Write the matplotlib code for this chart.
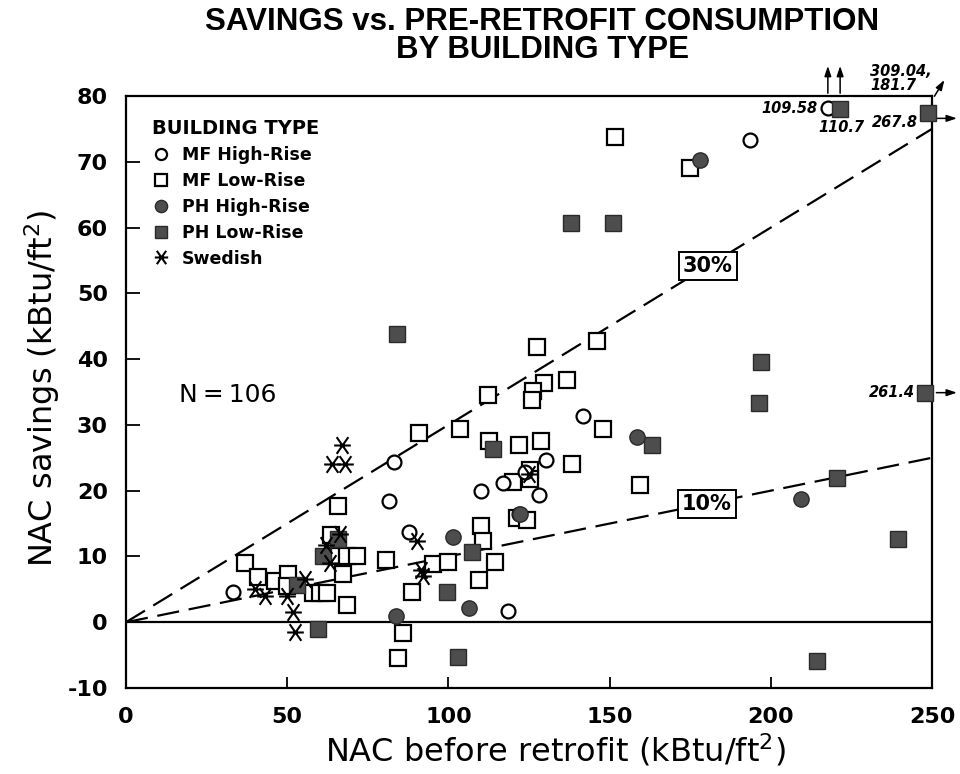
import matplotlib
matplotlib.use("Agg")
import matplotlib.pyplot as plt
from matplotlib.path import Path
from matplotlib.lines import Line2D
import numpy as np

plt.rcParams['font.family'] = ['DejaVu Sans']
plt.rcParams['lines.scale_dashes'] = False
plt.rcParams['axes.unicode_minus'] = False

# ---------------- data ----------------
mf_high_x = [33.2, 83.1, 81.6, 87.8, 110.0, 116.8, 118.5, 141.8, 130.3, 123.8, 128.1, 122.0, 193.5]
mf_high_y = [4.6, 24.3, 18.5, 13.7, 20.0, 21.1, 1.7, 31.4, 24.6, 22.9, 19.3, 16.5, 73.3]

mf_low_x = [36.9, 41.0, 46.2, 50.3, 49.8, 58.0, 60.2, 62.3, 63.5, 65.8, 64.8, 68.5, 71.6, 67.3,
            68.5, 80.6, 91.0, 103.6, 112.3, 112.6, 122.0, 128.7, 95.2, 99.9, 110.0, 110.6, 114.5,
            109.5, 88.7, 85.9, 84.4, 120.0, 125.3, 125.3, 121.3, 124.4, 127.5, 146.0, 129.7,
            136.8, 126.2, 125.9, 148.0, 138.3, 159.4, 151.7, 175.0]
mf_low_y = [9.0, 6.9, 6.2, 7.4, 5.5, 4.5, 4.5, 4.5, 13.2, 17.6, 10.0, 10.0, 10.0, 7.3,
            2.6, 9.4, 28.7, 29.3, 34.6, 27.5, 27.0, 27.5, 8.8, 9.1, 14.6, 12.3, 9.1,
            6.4, 4.6, -1.7, -5.5, 21.3, 23.2, 21.7, 15.9, 15.6, 41.9, 42.7, 36.4,
            36.9, 35.2, 33.8, 29.3, 24.1, 20.8, 73.7, 69.0]

ph_high_x = [178.0, 158.5, 101.5, 106.4, 83.7, 122.2, 209.4]
ph_high_y = [70.3, 28.1, 12.9, 2.1, 0.9, 16.4, 18.8]

ph_low_x = [84.0, 138.0, 151.0, 113.8, 163.0, 197.0, 196.3, 220.5, 239.5, 214.3, 103.0,
            99.6, 107.4, 59.6, 61.0, 65.8, 53.0]
ph_low_y = [43.8, 60.7, 60.7, 26.4, 27.0, 39.6, 33.4, 21.9, 12.6, -5.9, -5.3,
            4.6, 10.6, -1.1, 10.0, 12.6, 5.6]

swed_x = [40.0, 43.0, 49.8, 55.5, 51.8, 52.4, 64.0, 67.9, 67.0, 62.0, 66.4, 63.3, 90.2, 91.5, 92.0, 125.0]
swed_y = [5.0, 4.0, 4.0, 6.5, 1.5, -1.5, 24.0, 24.0, 27.0, 11.8, 13.4, 9.0, 12.3, 8.0, 7.0, 22.5]

# off-scale points: drawn at the frame edge, with true value labels
off_type = ['MF High-Rise', 'PH Low-Rise', 'PH Low-Rise', 'PH Low-Rise']
off_x = [217.7, 221.5, 248.7, 247.8]
off_y = [78.1, 78.0, 77.4, 34.9]
off_label = ['109.58', '110.7', '267.8', '261.4']
corner_label = '309.04,\n181.7'

ref_pct = [0.30, 0.10]
ref_labels = ['30%', '10%']
ref_label_x = [180.5, 180.2]

x_ticks = [0, 50, 100, 150, 200, 250]
y_ticks = [-10, 0, 10, 20, 30, 40, 50, 60, 70, 80]

# ---------------- figure ----------------
fig = plt.figure(figsize=(9.6, 7.74), dpi=100)
ax = fig.add_axes([126/960, 1-688/774, (932-126)/960, (688-96)/774])
ax.set_xlim(0, 250)
ax.set_ylim(-10, 80)

for s in ax.spines.values():
    s.set_linewidth(1.6)
ax.set_xticks(x_ticks)
ax.set_yticks(y_ticks)
ax.tick_params(axis='both', direction='in', width=1.3, top=False, right=False)
ax.tick_params(axis='y', length=10, pad=13, labelsize=16)
ax.tick_params(axis='x', length=8, pad=14, labelsize=16)
for lab in ax.get_xticklabels() + ax.get_yticklabels():
    lab.set_fontweight('bold')

# zero line
ax.axhline(0, color='black', lw=1.6, zorder=2)

# reference lines
xs = np.array([0, 250])
for p in ref_pct:
    ln, = ax.plot(xs, p*xs, color='black', lw=1.6, zorder=1)
    ln.set_dashes((16, 7))
for p, lab, lx in zip(ref_pct, ref_labels, ref_label_x):
    ax.text(lx, p*lx, lab, ha='center', va='center', fontsize=15, fontweight='bold', zorder=6,
            bbox=dict(boxstyle='square,pad=0.2', fc='white', ec='black', lw=1.4))

# Swedish marker: X with horizontal bar
a = 0.7
swed_marker = Path([(-a, -1), (a, 1), (-a, 1), (a, -1), (-1, 0), (1, 0)],
                   [Path.MOVETO, Path.LINETO, Path.MOVETO, Path.LINETO, Path.MOVETO, Path.LINETO])

fillc = '#4d4d4d'
styles = {
    'MF High-Rise': dict(marker='o', ms=10, mfc='white', mec='black', mew=1.6),
    'MF Low-Rise': dict(marker='s', ms=11, mfc='white', mec='black', mew=1.6),
    'PH High-Rise': dict(marker='o', ms=11, mfc=fillc, mec='#2a2a2a', mew=1.0),
    'PH Low-Rise': dict(marker='s', ms=11, mfc=fillc, mec='#2a2a2a', mew=1.0),
    'Swedish': dict(marker=swed_marker, ms=12, mfc='none', mec='black', mew=1.5),
}

ax.plot(mf_low_x, mf_low_y, ls='none', zorder=3, **styles['MF Low-Rise'])
ax.plot(mf_high_x, mf_high_y, ls='none', zorder=3, **styles['MF High-Rise'])
ax.plot(ph_low_x, ph_low_y, ls='none', zorder=4, **styles['PH Low-Rise'])
ax.plot(ph_high_x, ph_high_y, ls='none', zorder=4, **styles['PH High-Rise'])
ax.plot(swed_x, swed_y, ls='none', zorder=5, **styles['Swedish'])

for t, x, y in zip(off_type, off_x, off_y):
    ax.plot([x], [y], ls='none', zorder=5, clip_on=False, **styles[t])

arrow = dict(arrowstyle='-|>,head_length=0.6,head_width=0.2', lw=1.1, color='black')
# up arrows for savings off-scale
for x in off_x[:2]:
    ax.annotate('', xy=(x, 85), xytext=(x, 80), arrowprops=arrow, annotation_clip=False)
# right arrows for pre-retrofit off-scale
for y in [76.6, off_y[3]]:
    ax.annotate('', xy=(258.6, y), xytext=(250.5, y), arrowprops=arrow, annotation_clip=False)
# corner arrow
ax.annotate('', xy=(254.3, 82.8), xytext=(250.3, 79.6), arrowprops=arrow, annotation_clip=False)

lab_kw = dict(fontsize=10.5, fontstyle='italic', fontweight='bold', zorder=7)
ax.text(214.6, 78.1, off_label[0], ha='right', va='center', **lab_kw)
ax.text(221.8, 75.2, off_label[1], ha='center', va='center', **lab_kw)
ax.text(245.6, 76.0, off_label[2], ha='right', va='center', **lab_kw)
ax.text(244.7, 34.9, off_label[3], ha='right', va='center', **lab_kw)
ax.text(230.8, 84.9, corner_label, ha='left', va='top', linespacing=0.95, **lab_kw)

# N label
ax.text(31.6, 34.6, 'N \u2550 106', ha='center', va='center', fontsize=18)

# legend
handles = [Line2D([], [], ls='none', **styles[k]) for k in
           ['MF High-Rise', 'MF Low-Rise', 'PH High-Rise', 'PH Low-Rise', 'Swedish']]
for h in handles:
    h.set_markersize(h.get_markersize()*0.8)
leg = ax.legend(handles, ['MF High-Rise', 'MF Low-Rise', 'PH High-Rise', 'PH Low-Rise', 'Swedish'],
                loc='upper left', bbox_to_anchor=(0.022, 0.975), frameon=False,
                title='BUILDING TYPE', prop={'weight': 'bold', 'size': 12.5},
                title_fontproperties={'weight': 'bold', 'size': 14},
                labelspacing=0.45, handletextpad=0.7, handlelength=1.0, borderpad=0,
                alignment='left')

# title and axis labels
fig.text(542/960, 1-36/774, 'SAVINGS vs. PRE-RETROFIT CONSUMPTION\nBY BUILDING TYPE',
         ha='center', va='center', fontsize=22.5, fontweight='bold', linespacing=0.95,
         family='Liberation Sans')
fig.text(555/960, 1-750/774, 'NAC before retrofit (kBtu/ft$^2$)', ha='center', va='center',
         fontsize=23)
fig.text(42/960, 1-388/774, 'NAC savings (kBtu/ft$^2$)', ha='center', va='center',
         fontsize=23, rotation=90)

fig.savefig('out.png', dpi=100)
